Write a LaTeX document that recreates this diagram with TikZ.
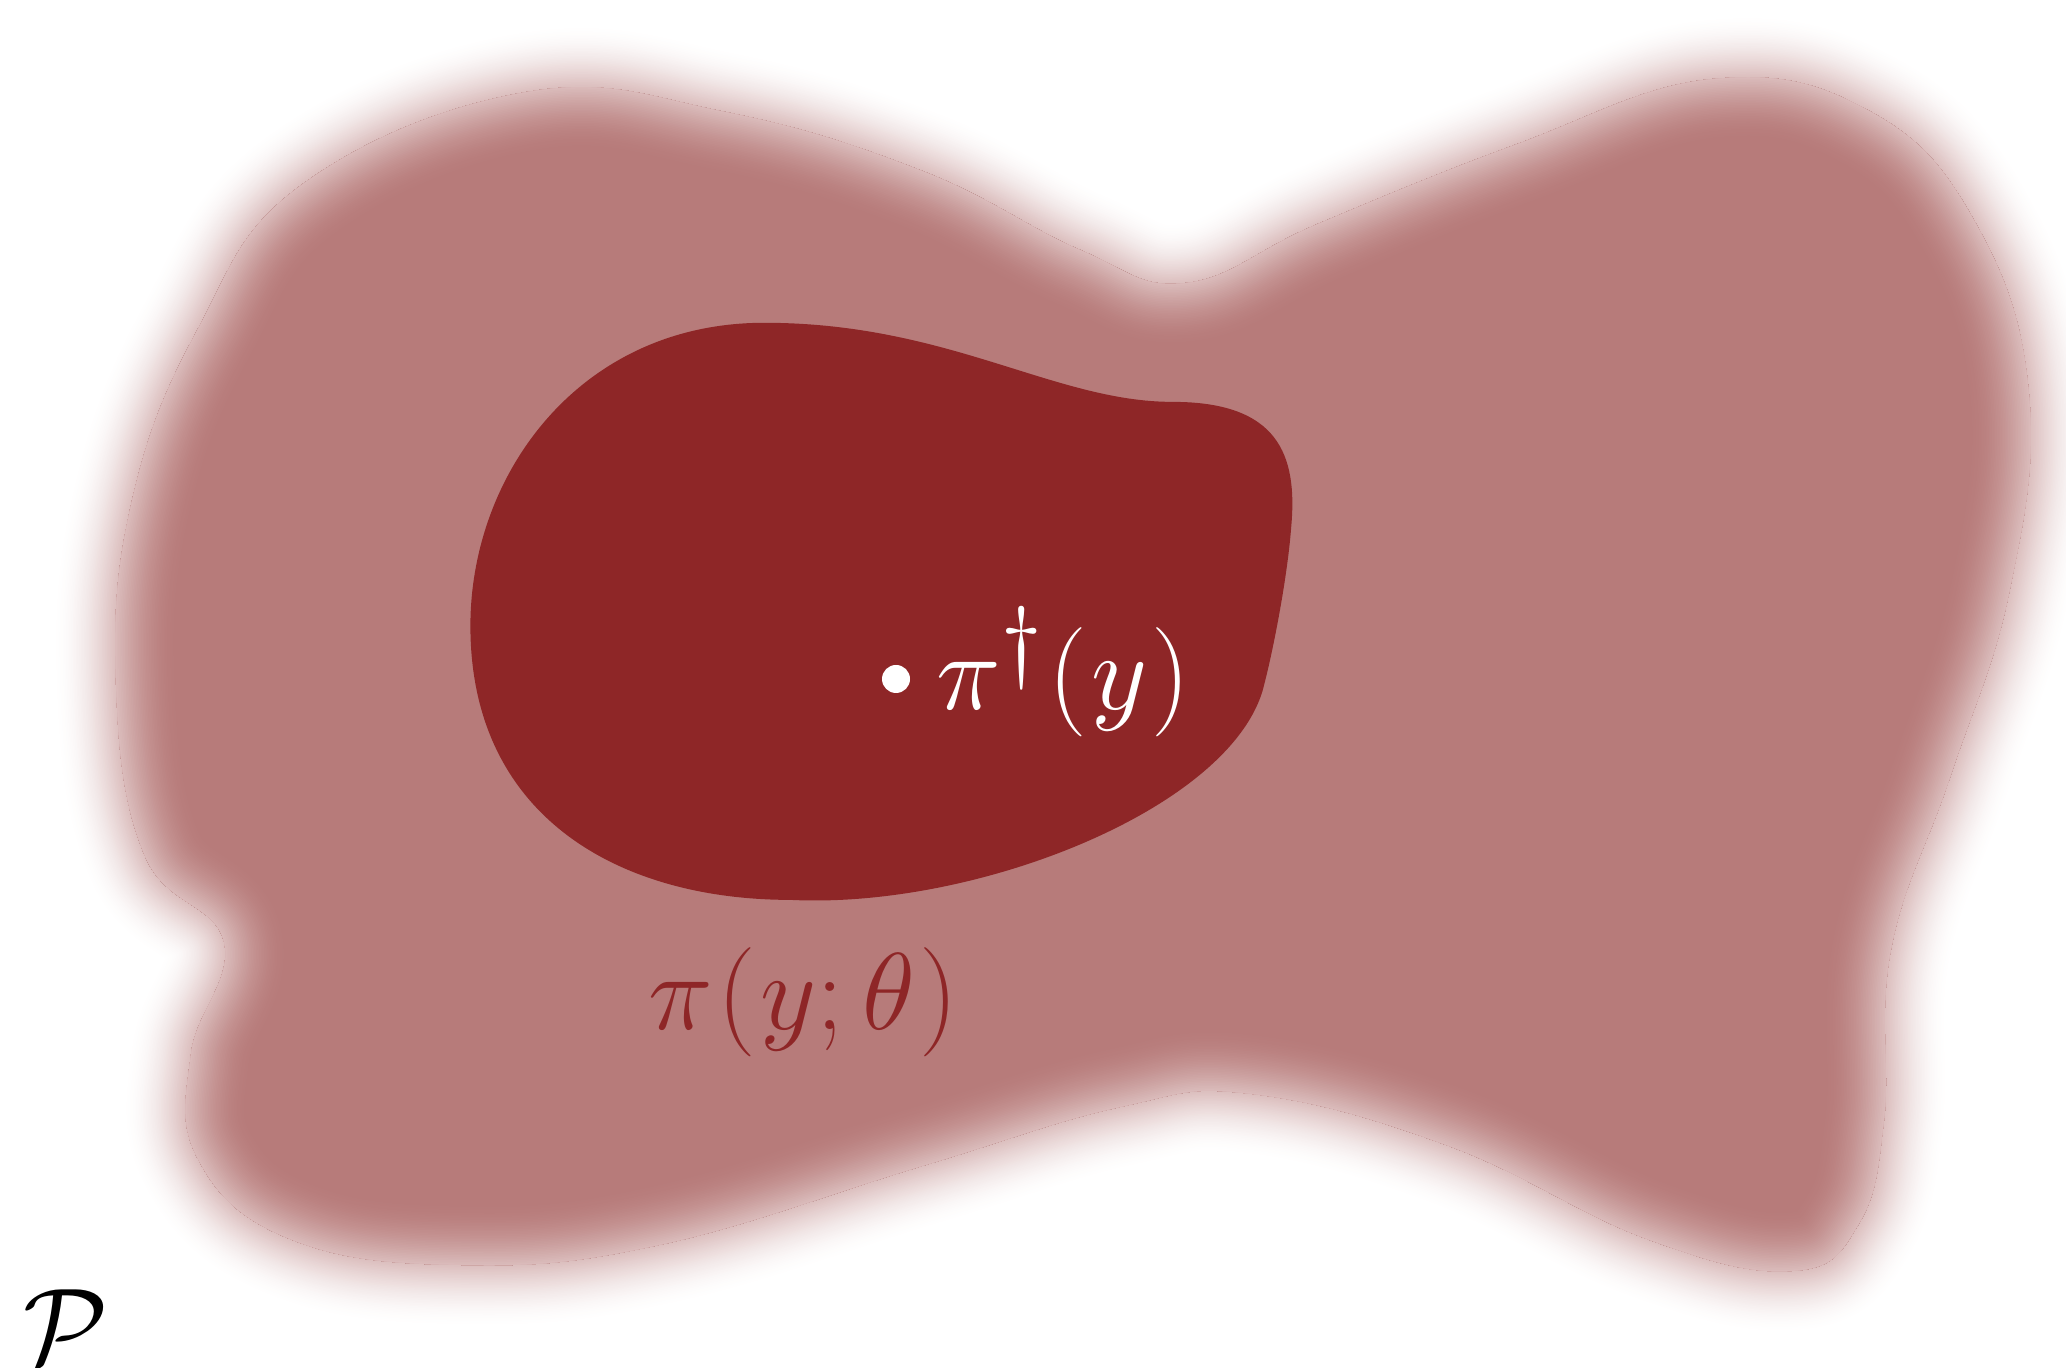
\documentclass[tikz,border=0pt]{standalone}
\usepackage{amsmath}
\usepackage{tikz}
\usetikzlibrary{positioning}
\definecolor{bloblight}{RGB}{183,123,122}
\definecolor{blobdark}{RGB}{142,38,39}
\tikzset{
  mathlbl/.style={inner sep=0pt, anchor=base west,
    font=\Huge, scale=1.25, transform shape},
  optdot/.style={circle, fill=white, inner sep=0pt, minimum size=0.28cm},
  softedge/.style={line join=round}
}
\newcommand{\gap}{\mkern0.7mu}
% outer (blurred) region
\def\outerblob{plot[smooth cycle, tension=0.7] coordinates {
  (5.27,12.76) (7.25,12.56) (9.22,11.97) (10.80,11.18) (11.86,10.85)
  (13.18,11.44) (15.15,12.23) (17.13,12.89) (18.71,12.56) (19.76,11.44)
  (20.29,9.73) (20.09,7.75) (19.50,5.91) (18.91,4.19) (18.84,2.48)
  (18.58,1.43) (17.92,0.97) (16.47,1.29) (14.49,2.22) (12.52,2.74)
  (11.20,2.61) (9.22,2.02) (6.59,1.23) (4.61,1.03) (2.90,1.29)
  (1.98,2.09) (1.91,3.14) (2.24,4.26) (1.45,5.12) (1.16,6.83)
  (1.32,8.67) (1.98,10.39) (3.03,11.84)}}
% inner region
\def\innerblob{(11.727,9.661) .. controls (12.781,9.661) and (12.978,9.134) .. (12.912,8.410)
  .. controls (12.873,7.883) and (12.715,7.092) .. (12.623,6.763)
  .. controls (12.254,5.577) and (9.750,4.589) .. (7.906,4.681)
  .. controls (6.193,4.681) and (4.704,5.511) .. (4.704,7.421)
  .. controls (4.704,8.937) and (5.797,10.452) .. (7.642,10.452)
  .. controls (9.487,10.452) and (10.541,9.661) .. (11.727,9.661) -- cycle}
\def\blur{0.65}

\begin{document}
\begin{tikzpicture}
  \useasboundingbox (0,0) rectangle (20.66,13.68);
  % Soft edge, outside
  \foreach \k in {0,...,39} {
    \pgfmathsetmacro{\h}{\blur*(40-\k)/40}
    \pgfmathsetmacro{\p}{50*(1-sin(90*\h/\blur))}
    \draw[softedge, draw=bloblight!\p, line width=2*\h cm] \outerblob;
  }
  \fill[bloblight] \outerblob;
  % Soft edge, inside
  \begin{scope}
    \clip \outerblob;
    \foreach \k in {0,...,39} {
      \pgfmathsetmacro{\h}{\blur*(40-\k)/40}
      \pgfmathsetmacro{\p}{50*(1+sin(90*\h/\blur))}
      \draw[softedge, draw=bloblight!\p, line width=2*\h cm] \outerblob;
    }
  \end{scope}
  % Inner region
  \fill[blobdark] \innerblob;
  % Labels
  \node[optdot] (opt) at (8.96,6.89) {};
  \node[mathlbl, text=white] (optlbl) at (9.36,6.58) {$\pi^\dagger\gap(\gap y\gap)$};
  \node[mathlbl, text=blobdark] (model) at (6.48,3.38) {$\pi\gap(\gap y;\theta\gap)$};
  \node[mathlbl] (space) at (0.23,0.03) {$\mathcal{P}$};
\end{tikzpicture}
\end{document}
